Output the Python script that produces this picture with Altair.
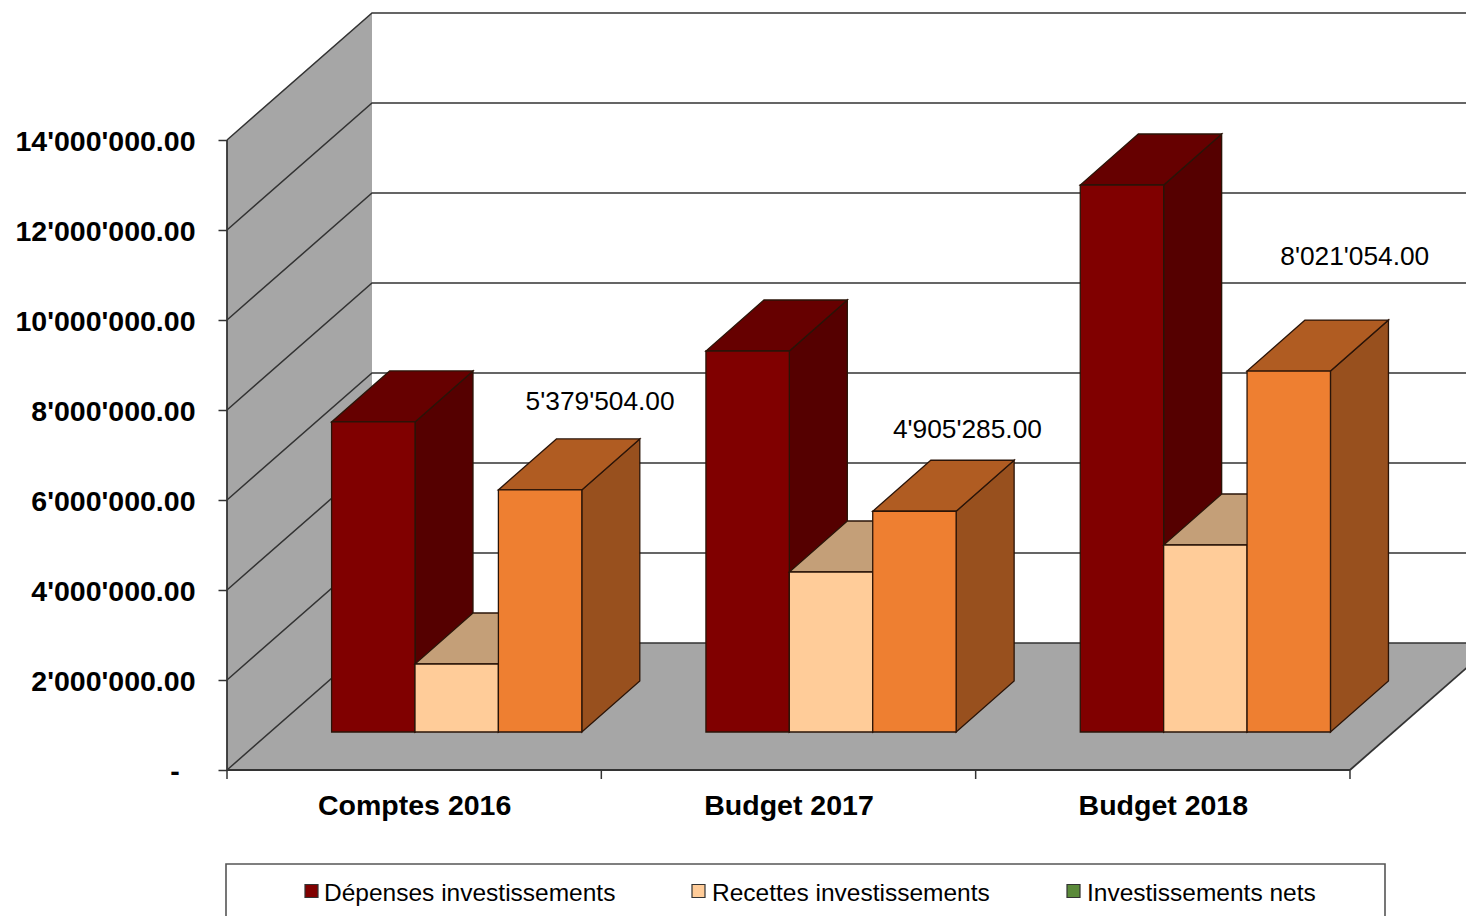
import json
import altair as alt
import pandas as pd

# ---- values ----
categories = ["Comptes 2016", "Budget 2017", "Budget 2018"]
depenses = [6890000, 8467000, 12156000]
recettes = [1511000, 3556000, 4156000]
nets = [5379504, 4905285, 8021054]
net_labels = ["5'379'504.00", "4'905'285.00", "8'021'054.00"]
legend_names = ["Dépenses investissements", "Recettes investissements", "Investissements nets"]
y_ticks = [0, 2000000, 4000000, 6000000, 8000000, 10000000, 12000000, 14000000]
zero_label = "-"

# ---- layout: the oblique projection expressed in scale units ----
W, H = 1458, 908
PX_PER_CAT = 374.33
PX_PER_VAL = 90 / 2e6
X0, Y0 = 227, 770  # page pixel of the origin


def ux(px):
    return (px - X0) / PX_PER_CAT


def uy(py):
    return (Y0 - py) / PX_PER_VAL


x_scale = alt.Scale(domain=[ux(8), ux(8 + W)], nice=False, zero=False)
y_scale = alt.Scale(domain=[uy(8 + H), uy(8)], nice=False, zero=False)

DX = 145 / PX_PER_CAT   # full depth of the box
DY = 127 / PX_PER_VAL
BDX = 58 / PX_PER_CAT   # bar depth
BDY = 51 / PX_PER_VAL
BAR_W = 83.4 / PX_PER_CAT
BAR_X = 104.6 / PX_PER_CAT
BASE = uy(732)          # bar base, on the front of the bars
N = len(categories)
LINE = "#333333"
FONT = "Liberation Sans"

label_expr = "replace(format(datum.value, ',.2f'), /,/g, \"'\")"
y_label_expr = "datum.value === 0 ? '' : " + label_expr

x_axis = alt.Axis(
    values=[0.5, 1.5, 2.5], title=None, domain=False, ticks=False, grid=False,
    offset=-146, labelPadding=21, labelFontSize=28.5, labelFontWeight="bold",
    labelFont=FONT, labelColor="black", labelFlush=False, labelOverlap=False,
    labelLimit=400,
    labelExpr=json.dumps(categories) + "[floor(datum.value)]",
)
y_axis = alt.Axis(
    values=y_ticks, title=None, domain=False, grid=False, offset=-219,
    tickSize=9, tickColor=LINE, tickWidth=1.5, labelPadding=23, labelOffset=1,
    labelFontSize=28.5, labelFontWeight="bold", labelFont=FONT, labelColor="black",
    labelFlush=False, labelOverlap=False, labelLimit=300, labelExpr=y_label_expr,
)

X = alt.X("x:Q", scale=x_scale, axis=x_axis)
Y = alt.Y("y:Q", scale=y_scale, axis=y_axis, stack=None)
X2 = alt.X2("x2:Q")
Y2 = alt.Y2("y2:Q")

# ---- box: walls, floor and gridlines ----
wall = pd.DataFrame([
    {"x": 0, "y": 0, "y2": y_ticks[-1]},
    {"x": DX, "y": DY, "y2": y_ticks[-1] + DY},
])
floor_df = pd.DataFrame([
    {"y": 0, "x": 0, "x2": N},
    {"y": DY, "x": DX, "x2": N + DX},
])
grid_rows = []
for v in y_ticks:
    grid_rows += [
        {"g": v, "o": 0, "x": 0, "y": v},
        {"g": v, "o": 1, "x": DX, "y": v + DY},
        {"g": v, "o": 2, "x": N + DX, "y": v + DY},
    ]
grid_df = pd.DataFrame(grid_rows)

wall_layer = alt.Chart(wall).mark_area(color="#a6a6a6", clip=True).encode(x=X, y=Y, y2=Y2)

floor_layer = alt.Chart(floor_df).mark_area(color="#a6a6a6", orient="horizontal", clip=True).encode(
    y=Y, x=X, x2=X2
)

grid_layer = alt.Chart(grid_df).mark_line(color=LINE, strokeWidth=1.5, clip=True).encode(
    x=X, y=Y, detail="g:N", order="o:Q"
)

edge_df = pd.DataFrame([
    {"g": "left", "o": 0, "x": 0, "y": 0},
    {"g": "left", "o": 1, "x": 0, "y": y_ticks[-1]},
    {"g": "front", "o": 0, "x": 0, "y": 0},
    {"g": "front", "o": 1, "x": N, "y": 0},
    {"g": "right", "o": 0, "x": N, "y": 0},
    {"g": "right", "o": 1, "x": N + DX, "y": DY},
])
edge_layer = alt.Chart(edge_df).mark_line(color=LINE, strokeWidth=1.8, clip=True).encode(
    x=X, y=Y, detail="g:N", order="o:Q"
)

tick_df = pd.DataFrame({"x": list(range(N + 1))})
tick_df["y"] = 0
tick_df["y2"] = -9 / PX_PER_VAL
tick_layer = alt.Chart(tick_df).mark_rule(color=LINE, strokeWidth=1.5).encode(x=X, y=Y, y2=Y2)

# the accounting-style dash of the zero label sits left of the right-aligned numbers
zero_df = pd.DataFrame([{"x": ux(175), "y": uy(772), "t": zero_label}])
zero_layer = alt.Chart(zero_df).mark_text(
    font=FONT, fontSize=28.5, fontWeight="bold", color="black", align="center", baseline="middle"
).encode(x=X, y=Y, text="t:N")

# ---- bars, painted left to right ----
series = [
    (depenses, "#800000", "#550000", "#660000"),
    (recettes, "#ffcc99", "#b08a66", "#c49f78"),
    (nets, "#ee7f31", "#98501e", "#b05c22"),
]
bar_layers = []
for s, (vals, front, side, top) in enumerate(series):
    fr, sd, tp = [], [], []
    for c, v in enumerate(vals):
        left = c + BAR_X + s * BAR_W
        right = left + BAR_W
        h = BASE + v
        fr.append({"x": left, "x2": right, "y": BASE, "y2": h})
        sd += [
            {"c": c, "x": right, "y": BASE, "y2": h},
            {"c": c, "x": right + BDX, "y": BASE + BDY, "y2": h + BDY},
        ]
        tp += [
            {"c": c, "y": h, "x": left, "x2": right},
            {"c": c, "y": h + BDY, "x": left + BDX, "x2": right + BDX},
        ]
    stroke = dict(stroke="#2a1408", strokeWidth=1.3)
    bar_layers.append(
        alt.Chart(pd.DataFrame(sd)).mark_area(color=side, **stroke).encode(x=X, y=Y, y2=Y2, detail="c:N")
    )
    bar_layers.append(
        alt.Chart(pd.DataFrame(tp)).mark_area(color=top, orient="horizontal", **stroke).encode(
            y=Y, x=X, x2=X2, detail="c:N"
        )
    )
    bar_layers.append(
        alt.Chart(pd.DataFrame(fr)).mark_rect(color=front, **stroke).encode(x=X, x2=X2, y=Y, y2=Y2)
    )

# ---- value labels of the third series ----
label_shift = [(60, -88), (53, -81), (66, -114)]  # pixels from the bar's front-top centre
label_df = pd.DataFrame([
    {
        "x": c + BAR_X + 2.5 * BAR_W + label_shift[c][0] / PX_PER_CAT,
        "y": BASE + nets[c] - label_shift[c][1] / PX_PER_VAL,
        "t": net_labels[c],
    }
    for c in range(N)
])
label_layer = alt.Chart(label_df).mark_text(
    font=FONT, fontSize=26.3, color="black", align="center", baseline="middle"
).encode(x=X, y=Y, text="t:N")

# ---- legend box, clipped by the bottom of the picture ----
box_df = pd.DataFrame([{"x": ux(226), "x2": ux(1385), "y": uy(864), "y2": uy(960)}])
box_layer = alt.Chart(box_df).mark_rect(
    fill="white", stroke="#555555", strokeWidth=1.6, clip=True
).encode(x=X, x2=X2, y=Y, y2=Y2)

swatch_x = [305, 692, 1067]
text_x = [324, 712, 1087]
swatch_colors = ["#800000", "#ffcc99", "#5b8a3a"]
swatch_df = pd.DataFrame([
    {"x": ux(p), "x2": ux(p + 13), "y": uy(884.5), "y2": uy(897.5), "c": col}
    for p, col in zip(swatch_x, swatch_colors)
])
swatch_layer = alt.Chart(swatch_df).mark_rect(stroke="#333333", strokeWidth=1.2).encode(
    x=X, x2=X2, y=Y, y2=Y2, fill=alt.Fill("c:N", scale=None)
)
legend_text_df = pd.DataFrame([
    {"x": ux(p), "y": uy(894), "t": name} for p, name in zip(text_x, legend_names)
])
legend_text_layer = alt.Chart(legend_text_df).mark_text(
    font=FONT, fontSize=24.5, color="black", align="left", baseline="middle"
).encode(x=X, y=Y, text="t:N")

chart = alt.layer(
    wall_layer, floor_layer, grid_layer, edge_layer, tick_layer, zero_layer,
    *bar_layers,
    label_layer, box_layer, swatch_layer, legend_text_layer,
).properties(
    width=W, height=H, padding=0, autosize=alt.AutoSizeParams(type="none"), background="white"
).configure_view(stroke=None)

chart.save("out.html", embed_options={"renderer": "svg", "actions": False})
